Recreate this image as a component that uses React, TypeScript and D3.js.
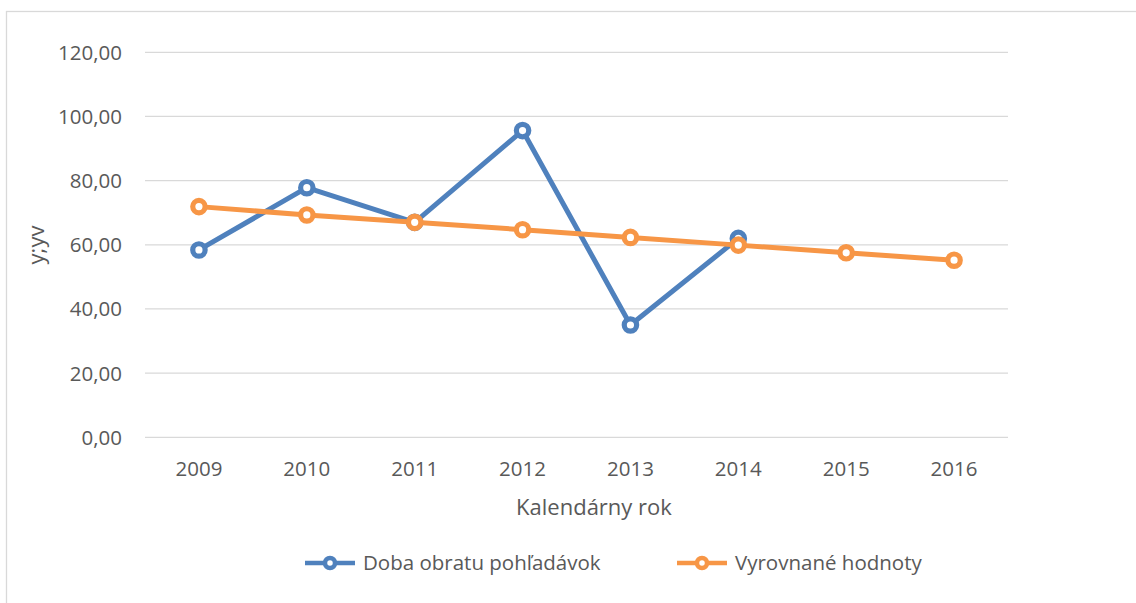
import React, { useRef, useEffect } from "react";
import * as d3 from "d3";

// data
const years = ["2009", "2010", "2011", "2012", "2013", "2014", "2015", "2016"];
const dobaObratu = [58.4, 77.8, 67.0, 95.6, 35.0, 62.0, null, null];
const vyrovnane = [71.9, 69.3, 67.0, 64.7, 62.3, 59.9, 57.5, 55.2];
const yTicks = [0, 20, 40, 60, 80, 100, 120];

const seriesNames = ["Doba obratu pohľadávok", "Vyrovnané hodnoty"];
const colors = ["#4F81BD", "#F79646"];

const W = 1136;
const H = 603;
const FONT = "'Open Sans', sans-serif";
const TEXT = "#595959";

const App = () => {
  const svgRef = useRef<SVGSVGElement>(null);

  useEffect(() => {
    const svg = d3.select(svgRef.current);
    svg.selectAll("*").remove();

    // chart frame (only left and top edges are visible)
    svg.append("rect")
      .attr("x", 6.5).attr("y", 11.5)
      .attr("width", W + 10).attr("height", H + 10)
      .attr("fill", "white").attr("stroke", "#d9d9d9").attr("stroke-width", 1.3);

    const x = d3.scaleBand().domain(years).range([145, 1008]);
    const y = d3.scaleLinear().domain([0, 120]).range([437.3, 52.3]);
    const cx = (d: string) => (x(d) as number) + x.bandwidth() / 2;

    // gridlines
    svg.append("g").selectAll("line").data(yTicks).join("line")
      .attr("x1", 145).attr("x2", 1008)
      .attr("y1", (d) => y(d)).attr("y2", (d) => y(d))
      .attr("stroke", "#d9d9d9").attr("stroke-width", 1.3);

    // y tick labels
    svg.append("g").selectAll("text").data(yTicks).join("text")
      .attr("x", 122).attr("y", (d) => y(d))
      .attr("dy", "0.36em")
      .attr("text-anchor", "end")
      .attr("font-family", FONT).attr("font-size", 20.5).attr("fill", TEXT)
      .text((d) => d3.format(".2f")(d).replace(".", ","));

    // x tick labels
    svg.append("g").selectAll("text").data(years).join("text")
      .attr("x", (d) => cx(d)).attr("y", 476)
      .attr("text-anchor", "middle")
      .attr("font-family", FONT).attr("font-size", 20.5).attr("fill", TEXT)
      .text((d) => d);

    // axis titles
    svg.append("text")
      .attr("x", 594).attr("y", 515)
      .attr("text-anchor", "middle")
      .attr("font-family", FONT).attr("font-size", 22).attr("fill", TEXT)
      .text("Kalendárny rok");

    svg.append("text")
      .attr("transform", "translate(44,245) rotate(-90)")
      .attr("text-anchor", "middle")
      .attr("font-family", FONT).attr("font-size", 22).attr("fill", TEXT)
      .text("y;yv");

    // lines + markers
    const allSeries = [dobaObratu, vyrovnane];
    allSeries.forEach((vals, i) => {
      const pts = years
        .map((yr, j) => ({ yr, v: vals[j] }))
        .filter((p) => p.v !== null) as { yr: string; v: number }[];

      const lineGen = d3.line<{ yr: string; v: number }>()
        .x((d) => cx(d.yr))
        .y((d) => y(d.v));

      svg.append("path")
        .datum(pts)
        .attr("d", lineGen)
        .attr("fill", "none")
        .attr("stroke", colors[i])
        .attr("stroke-width", 5)
        .attr("stroke-linejoin", "round");

      svg.append("g").selectAll("circle").data(pts).join("circle")
        .attr("cx", (d) => cx(d.yr)).attr("cy", (d) => y(d.v))
        .attr("r", 6.2)
        .attr("fill", "white")
        .attr("stroke", colors[i])
        .attr("stroke-width", 5.2);
    });

    // legend
    const legendX = [305, 677];
    seriesNames.forEach((name, i) => {
      const g = svg.append("g").attr("transform", `translate(${legendX[i]},563)`);
      g.append("line")
        .attr("x1", 0).attr("x2", 50).attr("y1", 0).attr("y2", 0)
        .attr("stroke", colors[i]).attr("stroke-width", 4.5);
      g.append("circle")
        .attr("cx", 25).attr("cy", 0).attr("r", 5)
        .attr("fill", "white").attr("stroke", colors[i]).attr("stroke-width", 4.5);
      g.append("text")
        .attr("x", 58).attr("y", 0).attr("dy", "0.36em")
        .attr("font-family", FONT).attr("font-size", 20.5).attr("fill", TEXT)
        .text(name);
    });
  }, []);

  return (
    <svg
      ref={svgRef}
      width={W}
      height={H}
      style={{ position: "absolute", left: 0, top: 0, background: "white" }}
    />
  );
};

export default App;
